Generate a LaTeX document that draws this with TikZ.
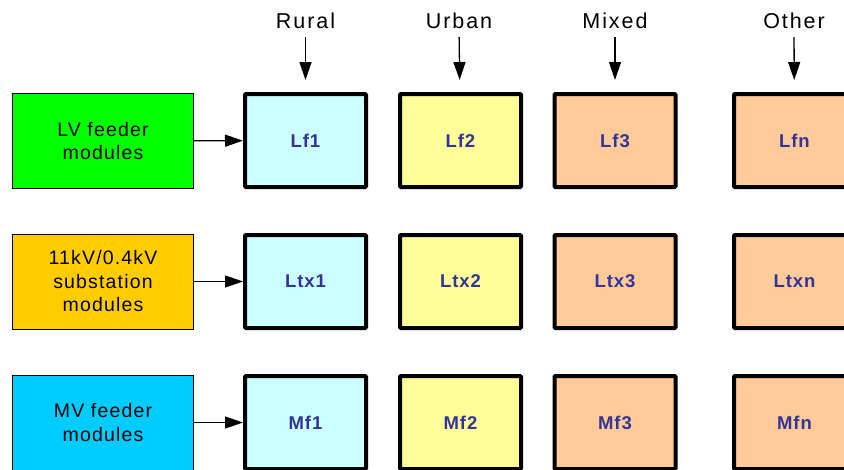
\documentclass[tikz,border=0pt]{standalone}
\usepackage{fontspec}
\setmainfont{Liberation Sans}
\usetikzlibrary{arrows.meta}
\definecolor{cgreen}{RGB}{0,255,0}
\definecolor{corange}{RGB}{255,204,0}
\definecolor{ccyan}{RGB}{0,204,255}
\definecolor{fcyan}{RGB}{204,255,255}
\definecolor{fyellow}{RGB}{255,255,153}
\definecolor{fpeach}{RGB}{255,204,153}
\definecolor{lblue}{RGB}{51,51,153}
\tikzset{
  x=1pt, y=1pt,
  srcbox/.style={draw=black, line width=1pt, minimum width=181pt, minimum height=95pt,
    inner sep=0pt, align=center, font=\addfontfeature{LetterSpace=6}\fontsize{19.5}{23.5}\selectfont},
  modbox/.style={draw=black, line width=4pt, rounded corners=1pt, minimum width=121pt, minimum height=93pt,
    inner sep=0pt, text=lblue, font=\addfontfeature{LetterSpace=5}\fontsize{18.5}{22}\selectfont\bfseries},
  hdr/.style={anchor=base, inner sep=0pt, text height=15pt, text depth=0pt,
    font=\addfontfeature{LetterSpace=9}\fontsize{21.5}{24}\selectfont},
  feedarrow/.style={line width=1.3pt, -{Triangle[length=18pt,width=12pt]}},
  hdrarrow/.style={line width=1.3pt, -{Triangle[length=18pt,width=12pt]}, shorten <=9pt, shorten >=12pt},
}
\begin{document}
\begin{tikzpicture}
\useasboundingbox (0,0) rectangle (844,-469);
% headers
\node[hdr] (h1) at (305.5,-28) {Rural};
\node[hdr] (h2) at (459,-28) {Urban};
\node[hdr] (h3) at (615,-28) {Mixed};
\node[hdr] (h4) at (794,-28) {Other};
% source boxes
\node[srcbox, fill=cgreen] (s1) at (103,-141) {LV feeder\\modules};
\node[srcbox, fill=corange] (s2) at (103,-281.5) {11kV/0.4kV\\substation\\modules};
\node[srcbox, fill=ccyan] (s3) at (103,-422.5) {MV feeder\\modules};
% module boxes
\node[modbox, fill=fcyan] (lf1) at (305.5,-140.5) {Lf1};
\node[modbox, fill=fyellow] (lf2) at (460.5,-140.5) {Lf2};
\node[modbox, fill=fpeach] (lf3) at (615,-140.5) {Lf3};
\node[modbox, fill=fpeach] (lfn) at (794.5,-140.5) {Lfn};
\node[modbox, fill=fcyan] (ltx1) at (305.5,-281.5) {Ltx1};
\node[modbox, fill=fyellow] (ltx2) at (460.5,-281.5) {Ltx2};
\node[modbox, fill=fpeach] (ltx3) at (615,-281.5) {Ltx3};
\node[modbox, fill=fpeach] (ltxn) at (794.5,-281.5) {Ltxn};
\node[modbox, fill=fcyan] (mf1) at (305.5,-422.5) {Mf1};
\node[modbox, fill=fyellow] (mf2) at (460.5,-422.5) {Mf2};
\node[modbox, fill=fpeach] (mf3) at (615,-422.5) {Mf3};
\node[modbox, fill=fpeach] (mfn) at (794.5,-422.5) {Mfn};
% arrows
\draw[feedarrow] (s1) -- (lf1);
\draw[feedarrow] (s2) -- (ltx1);
\draw[feedarrow] (s3) -- (mf1);
\draw[hdrarrow] (h1.south) -- (lf1);
\draw[hdrarrow] (h2.south) -- (lf2);
\draw[hdrarrow] (h3.south) -- (lf3);
\draw[hdrarrow] (h4.south) -- (lfn);
\end{tikzpicture}
\end{document}
